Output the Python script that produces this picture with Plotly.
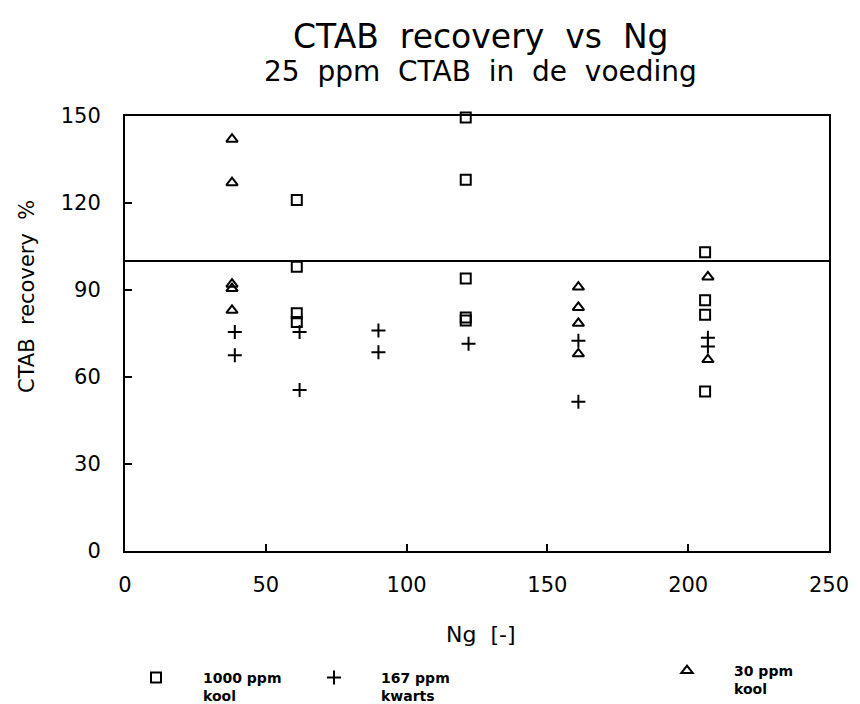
import plotly.graph_objects as go

# ---- data ----
sq_ng = [61, 61, 61, 61, 121, 121, 121, 121, 121, 206, 206, 206, 206]
sq_rec = [121, 98, 82, 79, 149.5, 128, 94, 80.5, 79.5, 103, 86.5, 81.5, 55]

pl_ng = [39, 39, 62, 62, 90, 90, 122, 161, 161, 207, 207]
pl_rec = [75.5, 67.5, 75.5, 55.5, 76, 68.5, 71.5, 72.5, 51.5, 73.5, 70.5]

tr_ng = [38, 38, 38, 38, 38, 161, 161, 161, 161, 207, 207]
tr_rec = [142, 127, 92, 90.5, 83, 91, 84, 78.5, 68, 94.5, 66]

ref_ng = [0, 250]
ref_rec = [100, 100]

x_ticks = [0, 50, 100, 150, 200, 250]
y_ticks = [0, 30, 60, 90, 120, 150]

names = ["1000 ppm<br>kool", "167 ppm<br>kwarts", "30 ppm<br>kool"]

FONT = "DejaVu Sans"
W, H = 860, 704
SP = "\u00a0 "  # wide word spacing like the plotter font


def wide(s):
    return s.replace(" ", SP)


fig = go.Figure()

fig.add_trace(go.Scatter(
    x=ref_ng, y=ref_rec, mode="lines", line=dict(color="black", width=2),
    showlegend=False, hoverinfo="skip", cliponaxis=False))

fig.add_trace(go.Scatter(
    x=sq_ng, y=sq_rec, mode="markers", name=names[0], legend="legend",
    marker=dict(symbol="square-open", size=10, color="black",
                line=dict(color="black", width=2)),
    cliponaxis=False))
fig.add_trace(go.Scatter(
    x=pl_ng, y=pl_rec, mode="markers", name=names[1], legend="legend2",
    marker=dict(symbol="cross-thin", size=10, color="black",
                line=dict(color="black", width=2)),
    cliponaxis=False))
fig.add_trace(go.Scatter(
    x=tr_ng, y=tr_rec, mode="markers", name=names[2], legend="legend3",
    marker=dict(symbol="triangle-up-open", size=10, color="black",
                line=dict(color="black", width=2)),
    cliponaxis=False))

axis_common = dict(
    showgrid=False, zeroline=False, showline=True, linecolor="black",
    linewidth=2, mirror=True, ticks="inside", ticklen=7, tickwidth=1.5,
    tickcolor="black", tickfont=dict(family=FONT, size=21, color="black"),
    automargin=False,
)

fig.update_xaxes(range=[0, 250], tickvals=x_ticks, ticktext=[str(v) for v in x_ticks],
                 ticklabelstandoff=14, tickangle=0, **axis_common)
fig.update_yaxes(range=[0, 150], tickvals=y_ticks, ticktext=[str(v) for v in y_ticks],
                 ticklabelstandoff=18, **axis_common)

legend_common = dict(
    font=dict(family=FONT, size=14, color="black", weight="bold"),
    bgcolor="rgba(0,0,0,0)", borderwidth=0, xref="container", yref="container",
    xanchor="left", yanchor="top", valign="top", itemwidth=84,
)

fig.update_layout(
    width=W, height=H,
    margin=dict(l=125, r=31, t=116, b=153, autoexpand=False),
    plot_bgcolor="white", paper_bgcolor="white",
    font=dict(family=FONT, color="black"),
    legend=dict(x=109 / W, y=1 - 662 / H, **legend_common),
    legend2=dict(x=287 / W, y=1 - 662 / H, **legend_common),
    legend3=dict(x=640 / W, y=1 - 655 / H, **legend_common),
    annotations=[
        dict(text=wide("CTAB recovery vs Ng"), xref="paper", yref="paper",
             x=0.505, y=1 + (116 - 37) / 435,
             xanchor="center", yanchor="middle", showarrow=False,
             font=dict(family=FONT, size=33, color="black")),
        dict(text=wide("25 ppm CTAB in de voeding"), xref="paper", yref="paper",
             x=0.505, y=1 + (116 - 71) / 435,
             xanchor="center", yanchor="middle", showarrow=False,
             font=dict(family=FONT, size=28, color="black")),
        dict(text=wide("CTAB recovery %"), xref="paper", yref="paper",
             x=(27 - 125) / 704, y=(551 - 297) / 435, textangle=-90,
             xanchor="center", yanchor="middle", showarrow=False,
             font=dict(family=FONT, size=21, color="black")),
        dict(text=wide("Ng [-]"), xref="paper", yref="paper",
             x=(481 - 125) / 704, y=(551 - 634) / 435,
             xanchor="center", yanchor="middle", showarrow=False,
             font=dict(family=FONT, size=22, color="black")),
    ],
)

fig.write_html("out.html")
